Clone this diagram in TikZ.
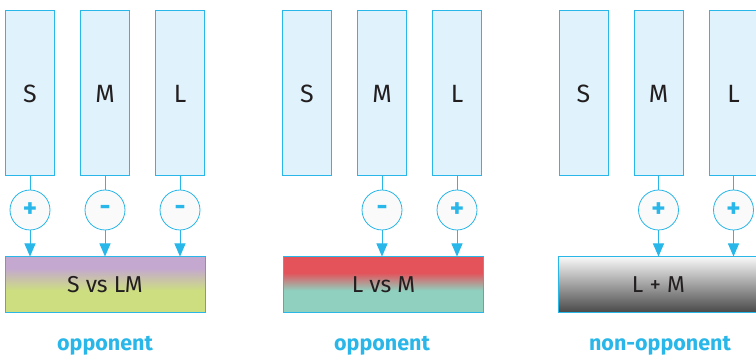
\documentclass[tikz,border=0pt]{standalone}
\usepackage{fontspec}
\setmainfont{Fira Sans}
\usetikzlibrary{arrows.meta}

\definecolor{linecyan}{RGB}{41,182,232}
\definecolor{conefill}{RGB}{224,243,253}
\definecolor{signfill}{RGB}{250,250,250}
\definecolor{textdark}{RGB}{35,31,32}
\definecolor{svpurple}{RGB}{196,168,208}
\definecolor{lmgreen}{RGB}{205,222,128}
\definecolor{lred}{RGB}{228,82,90}
\definecolor{mteal}{RGB}{143,208,191}

\pgfdeclareverticalshading{svslm}{100bp}{color(0bp)=(lmgreen); color(45bp)=(lmgreen); color(65bp)=(svpurple); color(100bp)=(svpurple)}
\pgfdeclareverticalshading{lvsm}{100bp}{color(0bp)=(mteal); color(45bp)=(mteal); color(61bp)=(lred); color(100bp)=(lred)}

\begin{document}
\begin{tikzpicture}[x=1pt,y=-1pt,
  cone/.style={draw=linecyan,fill=conefill,line width=1pt,minimum width=49pt,minimum height=165pt,inner sep=0pt,text=textdark,font=\fontsize{25}{27}\selectfont},
  sign/.style={circle,draw=linecyan,fill=signfill,line width=0.8pt,minimum size=40pt,inner sep=0pt,text=linecyan,font=\fontsize{27}{27}\selectfont\bfseries},
  chan/.style={draw=linecyan,line width=1pt,minimum width=200pt,minimum height=56pt,inner sep=0pt,text=textdark,font=\fontsize{23}{25}\selectfont},
  wire/.style={draw=linecyan,line width=1pt},
  feed/.style={wire,-{Triangle[width=11pt,length=13pt]}},
  kind/.style={anchor=base,text=linecyan,font=\fontsize{21.5}{24}\selectfont\bfseries}]
  \useasboundingbox (0,0) rectangle (756,358);

  % S vs LM
  \node[cone] (s1) at (30,93.5) {S};
  \node[cone] (m1) at (105,93.5) {M};
  \node[cone] (l1) at (180,93.5) {L};
  \node[sign] (ps1) at (30,210) {+};
  \node[sign] (pm1) at (105,210) {-};
  \node[sign] (pl1) at (180,210) {-};
  \node[chan,shading=svslm] (bar1) at (105,285) {S vs LM};
  \draw[wire] (s1) -- (ps1);
  \draw[wire] (m1) -- (pm1);
  \draw[wire] (l1) -- (pl1);
  \draw[feed] (ps1) -- (ps1 |- bar1.north);
  \draw[feed] (pm1) -- (pm1 |- bar1.north);
  \draw[feed] (pl1) -- (pl1 |- bar1.north);
  \node[kind] (k1) at (105,351) {opponent};

  % L vs M
  \node[cone] (s2) at (307,93.5) {S};
  \node[cone] (m2) at (382,93.5) {M};
  \node[cone] (l2) at (457,93.5) {L};
  \node[sign] (pm2) at (382,210) {-};
  \node[sign] (pl2) at (457,210) {+};
  \node[chan,shading=lvsm] (bar2) at (383.5,285) {L vs M};
  \draw[wire] (m2) -- (pm2);
  \draw[wire] (l2) -- (pl2);
  \draw[feed] (pm2) -- (pm2 |- bar2.north);
  \draw[feed] (pl2) -- (pl2 |- bar2.north);
  \node[kind] (k2) at (382,351) {opponent};

  % L + M
  \node[cone] (s3) at (583.5,93.5) {S};
  \node[cone] (m3) at (658.5,93.5) {M};
  \node[cone] (l3) at (733.5,93.5) {L};
  \node[sign] (pm3) at (658.5,210) {+};
  \node[sign] (pl3) at (733.5,210) {+};
  \node[chan,top color=black!3,bottom color=black!72] (bar3) at (658.5,285) {L + M};
  \draw[wire] (m3) -- (pm3);
  \draw[wire] (l3) -- (pl3);
  \draw[feed] (pm3) -- (pm3 |- bar3.north);
  \draw[feed] (pl3) -- (pl3 |- bar3.north);
  \node[kind] (k3) at (660,351) {non-opponent};
\end{tikzpicture}
\end{document}
